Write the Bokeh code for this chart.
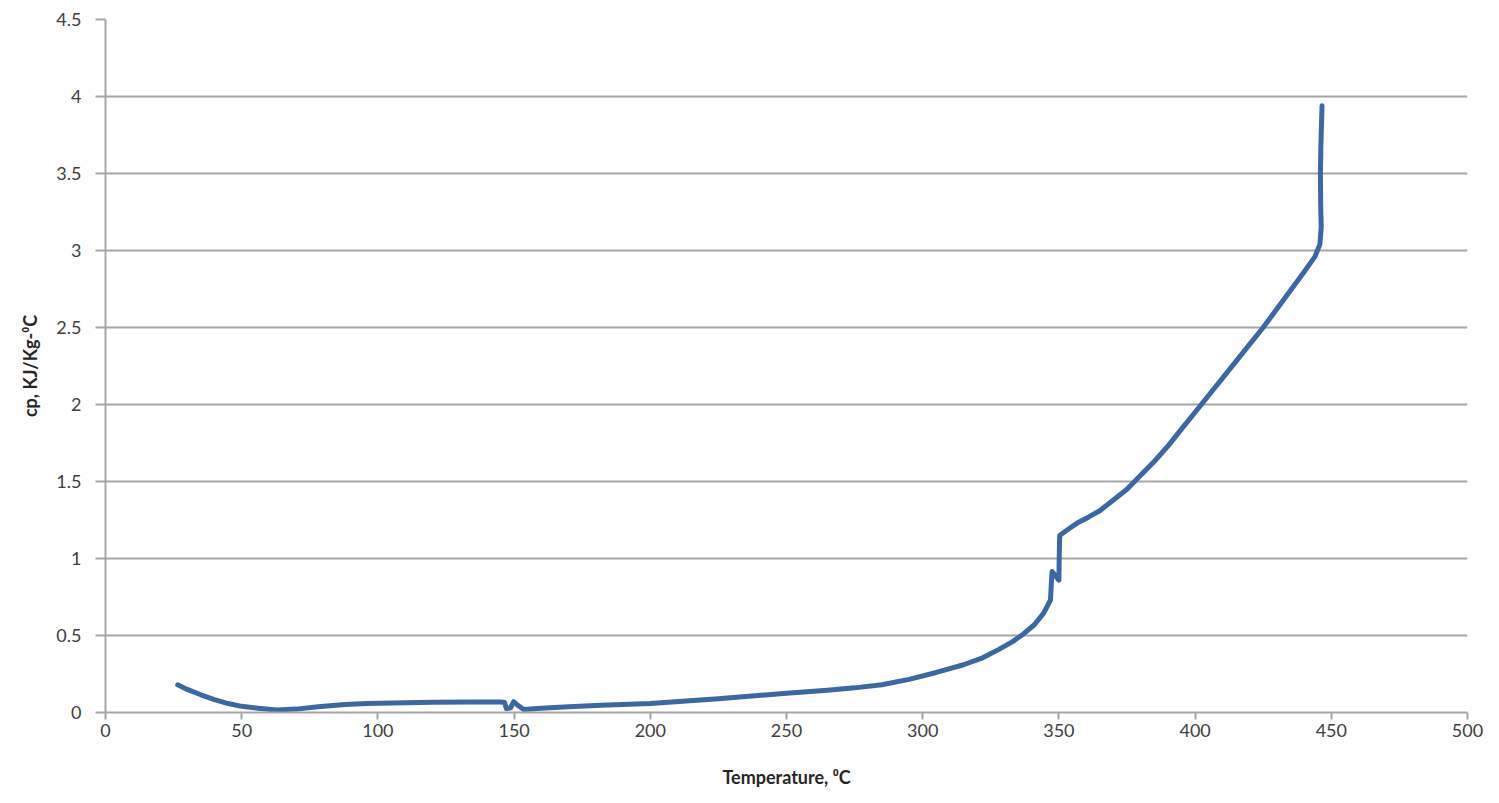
from bokeh.plotting import figure
from bokeh.models import Range1d, FixedTicker
from bokeh.embed import file_html
from bokeh.resources import INLINE

# Data
temperature = [26.5, 30, 35, 40, 45, 50, 56, 63, 70, 78, 88, 96, 110, 120, 135, 145,
               146.5, 147.2, 148.7, 149.8, 151.5, 153.5, 160, 170, 182, 200, 225, 250,
               265, 275, 285, 295, 305, 315, 322, 328, 333, 337, 341, 344.4, 346.9,
               347.2, 347.5, 350.0, 350.1, 350.3, 353, 356.7, 361, 365, 370, 375, 380,
               385, 390, 395, 400, 405, 410, 415, 420, 425, 430, 435, 440, 444, 445.8,
               446.3, 446.1, 446.0, 446.2, 446.6]
cp = [0.18, 0.15, 0.115, 0.084, 0.058, 0.04, 0.028, 0.016, 0.022, 0.038, 0.052, 0.058,
      0.063, 0.066, 0.068, 0.068, 0.065, 0.025, 0.03, 0.07, 0.045, 0.02, 0.028, 0.038,
      0.047, 0.058, 0.09, 0.125, 0.145, 0.16, 0.18, 0.215, 0.26, 0.31, 0.355, 0.41,
      0.46, 0.51, 0.57, 0.645, 0.73, 0.83, 0.915, 0.86, 1.0, 1.15, 1.185, 1.23, 1.27,
      1.31, 1.38, 1.45, 1.54, 1.63, 1.73, 1.84, 1.95, 2.06, 2.17, 2.28, 2.39, 2.5,
      2.62, 2.74, 2.86, 2.96, 3.04, 3.15, 3.3, 3.5, 3.7, 3.94]

x_ticks = [0, 50, 100, 150, 200, 250, 300, 350, 400, 450, 500]
y_ticks = [0, 0.5, 1, 1.5, 2, 2.5, 3, 3.5, 4, 4.5]
y_tick_labels = ["0", "0.5", "1", "1.5", "2", "2.5", "3", "3.5", "4", "4.5"]

p = figure(width=1499, height=803, output_backend="svg", toolbar_location=None,
           x_range=Range1d(0, 500), y_range=Range1d(0, 4.5),
           min_border_left=105, min_border_right=32, min_border_top=19,
           min_border_bottom=91)
p.outline_line_color = None
p.background_fill_color = "white"
p.border_fill_color = "white"

p.line(temperature, cp, line_color="#3B68A2", line_width=5,
       line_join="round", line_cap="round")

font = "Lato"
# X axis
xa = p.xaxis[0]
xa.ticker = FixedTicker(ticks=x_ticks)
xa.axis_line_color = "#A6A6A6"
xa.axis_line_width = 2
xa.major_tick_line_color = "#A6A6A6"
xa.major_tick_line_width = 2
xa.major_tick_out = 7
xa.major_tick_in = 0
xa.minor_tick_line_color = None
xa.major_label_text_font = font
xa.major_label_text_font_size = "18px"
xa.major_label_text_color = "#404040"
xa.major_label_standoff = 4
xa.axis_label = "Temperature, \u2070C"
xa.axis_label_text_font = font
xa.axis_label_text_font_style = "bold"
xa.axis_label_text_font_size = "18px"
xa.axis_label_text_color = "#262626"
xa.axis_label_standoff = 26

# Y axis
ya = p.yaxis[0]
ya.ticker = FixedTicker(ticks=y_ticks)
ya.major_label_overrides = {t: l for t, l in zip(y_ticks, y_tick_labels)}
ya.axis_line_color = "#A6A6A6"
ya.axis_line_width = 2
ya.major_tick_line_color = "#A6A6A6"
ya.major_tick_line_width = 2
ya.major_tick_out = 10
ya.major_tick_in = 0
ya.minor_tick_line_color = None
ya.major_label_text_font = font
ya.major_label_text_font_size = "18px"
ya.major_label_text_color = "#404040"
ya.major_label_standoff = 14
ya.axis_label = "cp, KJ/Kg-\u2070C"
ya.axis_label_text_font = font
ya.axis_label_text_font_style = "bold"
ya.axis_label_text_font_size = "18px"
ya.axis_label_text_color = "#262626"
ya.axis_label_standoff = 12

p.xgrid.grid_line_color = None
p.ygrid.ticker = FixedTicker(ticks=y_ticks)
p.ygrid.grid_line_color = "#A6A6A6"
p.ygrid.grid_line_width = 2

open("out.html", "w").write(file_html(p, INLINE))
